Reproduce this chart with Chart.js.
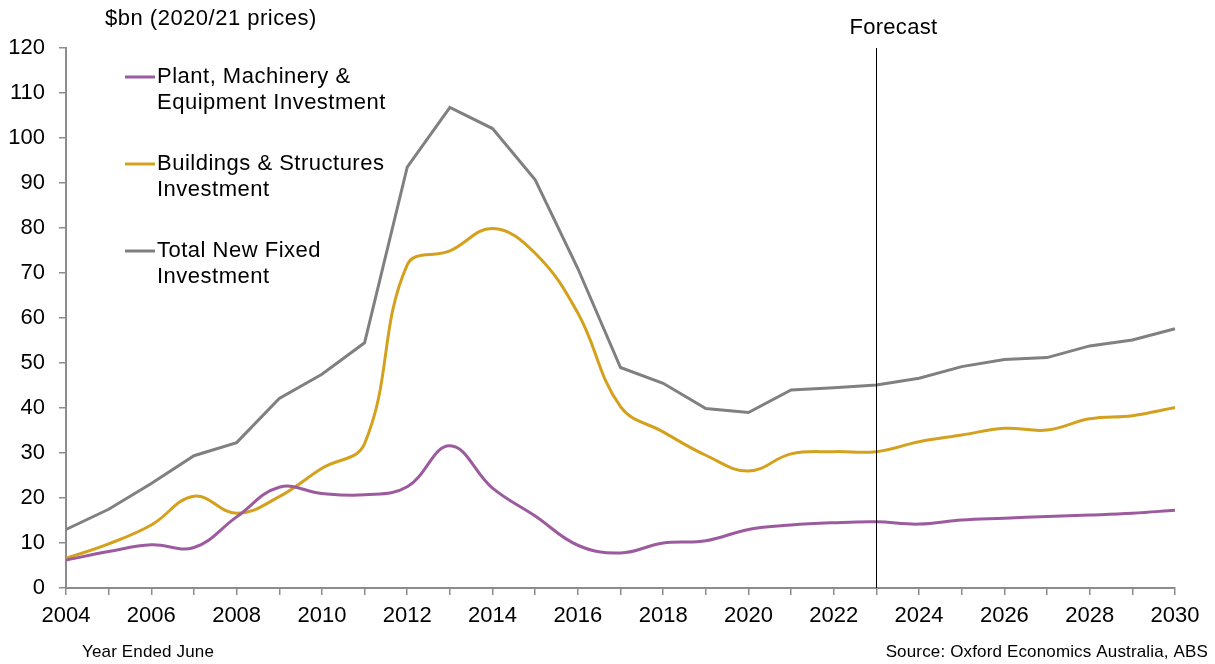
<!DOCTYPE html>
<html>
<head>
<meta charset="utf-8">
<script src="https://cdn.jsdelivr.net/npm/chart.js@4.4.1/dist/chart.umd.min.js"></script>
<style>
  html, body { margin: 0; padding: 0; background: #fff; }
  .chart-wrap { position: relative; width: 1215px; height: 664px; }
</style>
</head>
<body>
<div class="chart-wrap"><canvas id="investChart"></canvas></div>
<script>
// years ended June
const years = [2004, 2005, 2006, 2007, 2008, 2009, 2010, 2011, 2012, 2013, 2014, 2015, 2016, 2017,
  2018, 2019, 2020, 2021, 2022, 2023, 2024, 2025, 2026, 2027, 2028, 2029, 2030];

// $bn, 2020/21 prices
const plantMachinery = [6.2, 8.1, 9.6, 9.0, 15.8, 22.4, 21.0, 20.7, 22.5, 31.6, 22.2, 16.0, 9.5, 7.8,
  10.0, 10.5, 13.0, 14.0, 14.5, 14.7, 14.2, 15.1, 15.5, 15.9, 16.2, 16.6, 17.3];
const buildingsStructures = [6.6, 9.8, 14.0, 20.4, 16.6, 20.3, 26.6, 32.1, 71.8, 74.9, 79.9, 74.4, 61.1, 40.3,
  34.7, 29.5, 26.0, 29.8, 30.3, 30.3, 32.5, 34.0, 35.5, 35.1, 37.6, 38.3, 40.1];
const totalFixed = [13.0, 17.5, 23.2, 29.4, 32.3, 42.1, 47.5, 54.5, 93.5, 106.8, 102.1, 90.7, 71.0, 49.0,
  45.5, 39.9, 39.0, 44.0, 44.5, 45.1, 46.6, 49.2, 50.8, 51.2, 53.8, 55.1, 57.6];

const forecastStart = 2023;

const FONT = '"Liberation Sans", Arial, sans-serif';
const AXIS_GREY = '#8c8c8c';

const legendItems = [
  { lines: ['Plant, Machinery &', 'Equipment Investment'], color: '#9b5b9e', y: 77 },
  { lines: ['Buildings & Structures', 'Investment'], color: '#d4a11e', y: 164 },
  { lines: ['Total New Fixed', 'Investment'], color: '#808080', y: 251 },
];

// extra text, forecast marker and the two-line legend
const annotations = {
  id: 'annotations',
  afterDatasetsDraw(chart) {
    const { ctx, chartArea, scales } = chart;
    const fx = scales.x.getPixelForValue(years.indexOf(forecastStart));

    ctx.save();
    ctx.strokeStyle = '#000';
    ctx.lineWidth = 1;
    ctx.beginPath();
    ctx.moveTo(Math.round(fx) + 0.5, chartArea.top);
    ctx.lineTo(Math.round(fx) + 0.5, chartArea.bottom);
    ctx.stroke();

    ctx.fillStyle = '#000';
    ctx.textBaseline = 'middle';
    ctx.font = '22px ' + FONT;
    ctx.letterSpacing = '0.3px';
    ctx.textAlign = 'center';
    ctx.fillText('Forecast', fx + 17, 28);

    ctx.textAlign = 'left';
    ctx.letterSpacing = '0.5px';
    ctx.fillText('$bn (2020/21 prices)', 105, 19);

    legendItems.forEach(item => {
      ctx.strokeStyle = item.color;
      ctx.lineWidth = 3;
      ctx.beginPath();
      ctx.moveTo(125, item.y);
      ctx.lineTo(155, item.y);
      ctx.stroke();
      item.lines.forEach((t, i) => ctx.fillText(t, 157, item.y + i * 26));
    });

    ctx.font = '17px ' + FONT;
    ctx.letterSpacing = '0.15px';
    ctx.fillText('Year Ended June', 82, 652);
    ctx.textAlign = 'right';
    ctx.fillText('Source: Oxford Economics Australia, ABS', 1208, 652);
    ctx.restore();
  }
};

new Chart(document.getElementById('investChart'), {
  type: 'line',
  data: {
    labels: years,
    datasets: [
      {
        label: 'Plant, Machinery & Equipment Investment',
        data: plantMachinery,
        borderColor: '#9b5b9e',
        borderWidth: 3,
        tension: 0.4,
        pointRadius: 0,
      },
      {
        label: 'Buildings & Structures Investment',
        data: buildingsStructures,
        borderColor: '#d4a11e',
        borderWidth: 3,
        tension: 0.4,
        pointRadius: 0,
      },
      {
        label: 'Total New Fixed Investment',
        data: totalFixed,
        borderColor: '#808080',
        borderWidth: 3,
        tension: 0,
        pointRadius: 0,
      },
    ],
  },
  options: {
    responsive: true,
    maintainAspectRatio: false,
    animation: false,
    layout: { padding: { top: 48, right: 40, left: 0, bottom: 0 } },
    plugins: {
      legend: { display: false },
      tooltip: { enabled: false },
    },
    scales: {
      x: {
        type: 'category',
        offset: false,
        afterFit(scale) { scale.height = 76; },
        grid: {
          drawOnChartArea: false,
          drawTicks: true,
          tickLength: 7,
          color: AXIS_GREY,
          lineWidth: 1.5,
        },
        border: { color: AXIS_GREY, width: 2 },
        ticks: {
          autoSkip: false,
          maxRotation: 0,
          padding: 8,
          color: '#000',
          font: { family: FONT, size: 22 },
          callback(value, index) {
            const y = years[index];
            return y % 2 === 0 ? String(y) : '';
          },
        },
      },
      y: {
        min: 0,
        max: 120,
        afterFit(scale) { scale.width = 66; },
        grid: {
          drawOnChartArea: false,
          drawTicks: true,
          tickLength: 7,
          color: AXIS_GREY,
          lineWidth: 1.5,
        },
        border: { color: AXIS_GREY, width: 2 },
        ticks: {
          stepSize: 10,
          padding: 14,
          color: '#000',
          font: { family: FONT, size: 22 },
        },
      },
    },
  },
  plugins: [annotations],
});
</script>
</body>
</html>
